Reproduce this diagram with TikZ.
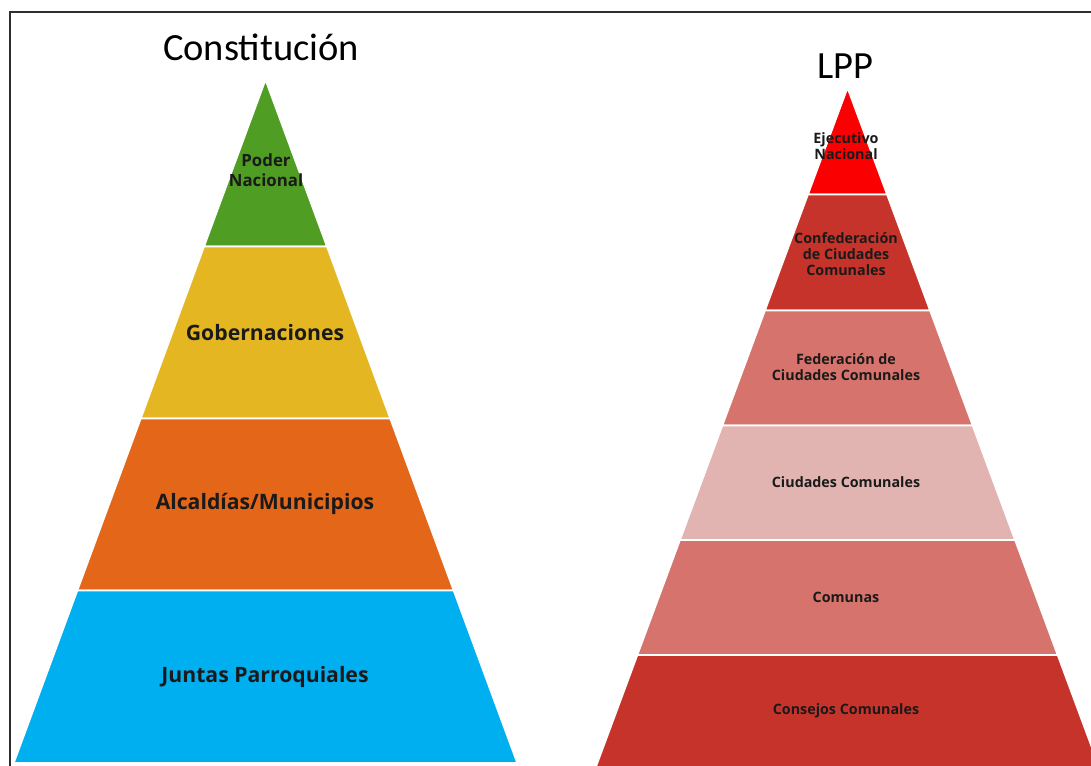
\documentclass[tikz,border=0pt]{standalone}
\usepackage{fontspec}
\setmainfont{Open Sans}
\newfontfamily\titlefont{Carlito}

\definecolor{verde}{HTML}{4F9D23}
\definecolor{amarillo}{HTML}{E4B621}
\definecolor{naranja}{HTML}{E46619}
\definecolor{celeste}{HTML}{00AFEF}
\definecolor{rojo}{HTML}{FB0000}
\definecolor{granate}{HTML}{C6332A}
\definecolor{salmon}{HTML}{D5736C}
\definecolor{rosa}{HTML}{E1B4B2}
\definecolor{texto}{HTML}{1A1A1A}
\definecolor{marco}{HTML}{2E2E2E}

\begin{document}
\begin{tikzpicture}[x=1pt,y=-1pt,
    tier/.style={draw=white,line width=1.6pt},
    big/.style={align=center,text=texto,inner sep=0pt,
      font=\bfseries\fontsize{21.2}{24}\selectfont},
    small/.style={align=center,text=texto,inner sep=0pt,
      font=\bfseries\fontsize{14.3}{16}\selectfont},
    titulo/.style={inner sep=0pt,font=\titlefont\fontsize{38.5}{42}\selectfont}]

  \useasboundingbox (0,0) rectangle (1091,765);
  \clip (0,0) rectangle (1091,765);
  \fill[white] (0,0) rectangle (1091,765);

  % frame (only left and top edges show)
  \draw[marco,line width=2.2pt] (10,770) -- (10,12) -- (1095,12);

  % left pyramid
  \filldraw[tier,fill=verde]    (265.5,80)  -- (326.9,246.5) -- (204.1,246.5) -- cycle;
  \filldraw[tier,fill=amarillo] (204.1,246.5) -- (326.9,246.5) -- (390.2,418.5) -- (140.8,418.5) -- cycle;
  \filldraw[tier,fill=naranja]  (140.8,418.5) -- (390.2,418.5) -- (453.6,590.5) -- (77.4,590.5) -- cycle;
  \filldraw[tier,fill=celeste]  (77.4,590.5) -- (453.6,590.5) -- (517.2,763) -- (13.8,763) -- cycle;

  % right pyramid
  \filldraw[tier,fill=rojo]    (847.5,88)  -- (887.0,194.5) -- (808.0,194.5) -- cycle;
  \filldraw[tier,fill=granate] (808.0,194.5) -- (887.0,194.5) -- (930.0,310.5) -- (765.0,310.5) -- cycle;
  \filldraw[tier,fill=salmon]  (765.0,310.5) -- (930.0,310.5) -- (972.6,425.5) -- (722.4,425.5) -- cycle;
  \filldraw[tier,fill=rosa]    (722.4,425.5) -- (972.6,425.5) -- (1015.0,540) -- (680.0,540) -- cycle;
  \filldraw[tier,fill=salmon]  (680.0,540) -- (1015.0,540) -- (1057.6,655) -- (637.4,655) -- cycle;
  \filldraw[tier,fill=granate] (637.4,655) -- (1057.6,655) -- (1100.2,770) -- (594.8,770) -- cycle;

  % titles
  \node[titulo] (const) at (261,47) {Constitución};
  \node[titulo] (lpp)   at (845,66) {LPP};

  % labels
  \begin{scope}[every node/.style={big}]
    \node[font=\bfseries\fontsize{16.8}{20}\selectfont] (poder) at (266,170) {Poder\\Nacional};
    \node (gob)   at (265,333) {Gobernaciones};
    \node (alc)   at (265,504) {Alcaldías/Municipios};
    \node (junta) at (265,677) {Juntas Parroquiales};
  \end{scope}

  \begin{scope}[every node/.style={small}]
    \node (ejec)   at (846,146) {Ejecutivo\\Nacional};
    \node (confed) at (846,254) {Confederación\\de Ciudades\\Comunales};
    \node (fed)    at (846,367) {Federación de\\Ciudades Comunales};
    \node (ciud)   at (846,482) {Ciudades Comunales};
    \node (comuna) at (846,597) {Comunas};
    \node (cons)   at (846,711) {Consejos Comunales};
  \end{scope}

\end{tikzpicture}
\end{document}
